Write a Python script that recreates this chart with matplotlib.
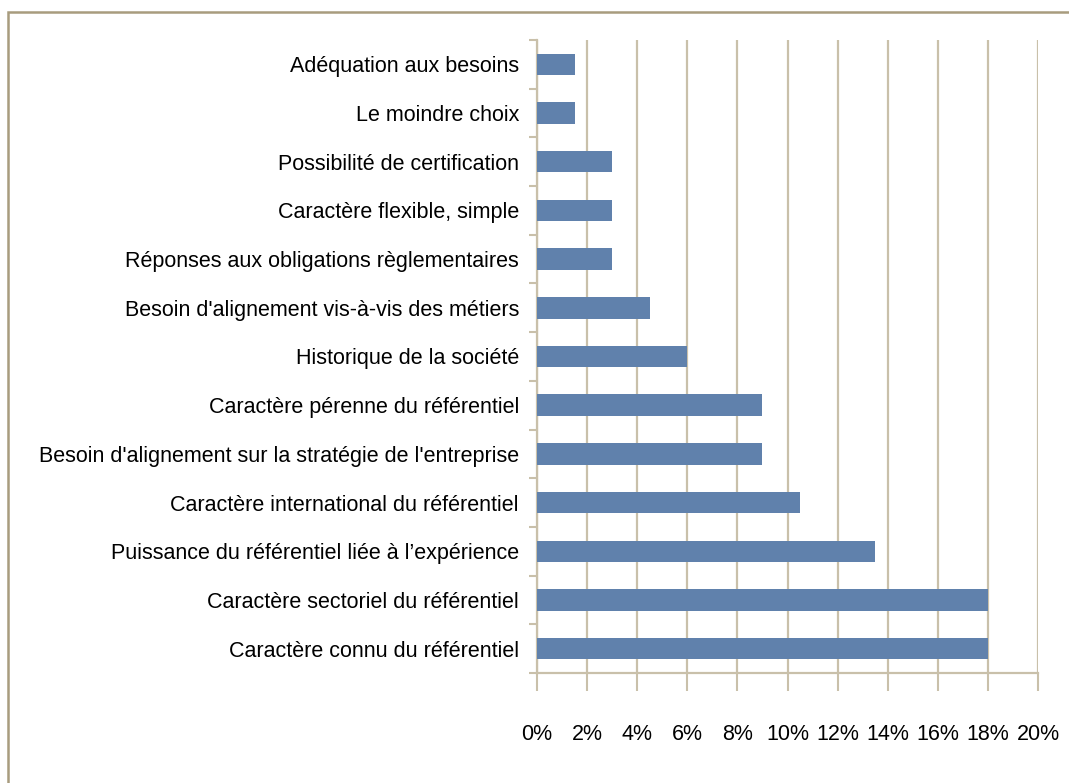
import matplotlib
matplotlib.use("Agg")
import matplotlib.pyplot as plt
from matplotlib.patches import Rectangle
from matplotlib.ticker import FuncFormatter, MultipleLocator

# catégories de haut en bas (comme dans l'image)
categories = [
    "Adéquation aux besoins",
    "Le moindre choix",
    "Possibilité de certification",
    "Caractère flexible, simple",
    "Réponses aux obligations règlementaires",
    "Besoin d'alignement vis-à-vis des métiers",
    "Historique de la société",
    "Caractère pérenne du référentiel",
    "Besoin d'alignement sur la stratégie de l'entreprise",
    "Caractère international du référentiel",
    "Puissance du référentiel liée à l\u2019expérience",
    "Caractère sectoriel du référentiel",
    "Caractère connu du référentiel",
]
values = [1.5, 1.5, 3.0, 3.0, 3.0, 4.5, 6.0, 9.0, 9.0, 10.5, 13.5, 18.0, 18.0]

BAR = "#6081ac"
GRID = "#c9c0aa"
FRAME = "#a89c7e"

plt.rcParams["font.family"] = ["Liberation Sans", "DejaVu Sans"]

W, H = 1069, 783
fig = plt.figure(figsize=(W / 100, H / 100), dpi=100)
ax = fig.add_axes([537 / W, 1 - 673 / H, (1038 - 537) / W, (673 - 40) / H])

n = len(categories)
ypos = list(range(n))[::-1]
ax.barh(ypos, values, height=0.44, color=BAR, zorder=3)

ax.set_xlim(0, 20)
ax.set_ylim(-0.5, n - 0.5)
ax.xaxis.set_major_locator(MultipleLocator(2))
ax.xaxis.set_major_formatter(FuncFormatter(lambda v, _: f"{v:.0f}%"))
ax.grid(axis="x", color=GRID, linewidth=1.6, zorder=0)

ax.set_yticks(ypos)
ax.set_yticklabels(categories, fontsize=15.5)
ax.set_yticks([i - 0.5 for i in range(n + 1)], minor=True)
ax.tick_params(axis="y", which="major", length=0, pad=13)
ax.tick_params(axis="y", which="minor", length=6, color=GRID, width=1.5)
ax.tick_params(axis="x", length=13, color=GRID, width=1.5, pad=24, labelsize=15.5)

for side in ("top", "right"):
    ax.spines[side].set_visible(False)
for side in ("left", "bottom"):
    ax.spines[side].set_color(GRID)
    ax.spines[side].set_linewidth(1.6)

# cadre du graphique
fig.patches.append(Rectangle((8 / W, -0.05), 1.05, 1 - 12 / H + 0.05,
                             transform=fig.transFigure, fill=False,
                             edgecolor=FRAME, linewidth=1.8))

fig.savefig("out.png", dpi=100)
